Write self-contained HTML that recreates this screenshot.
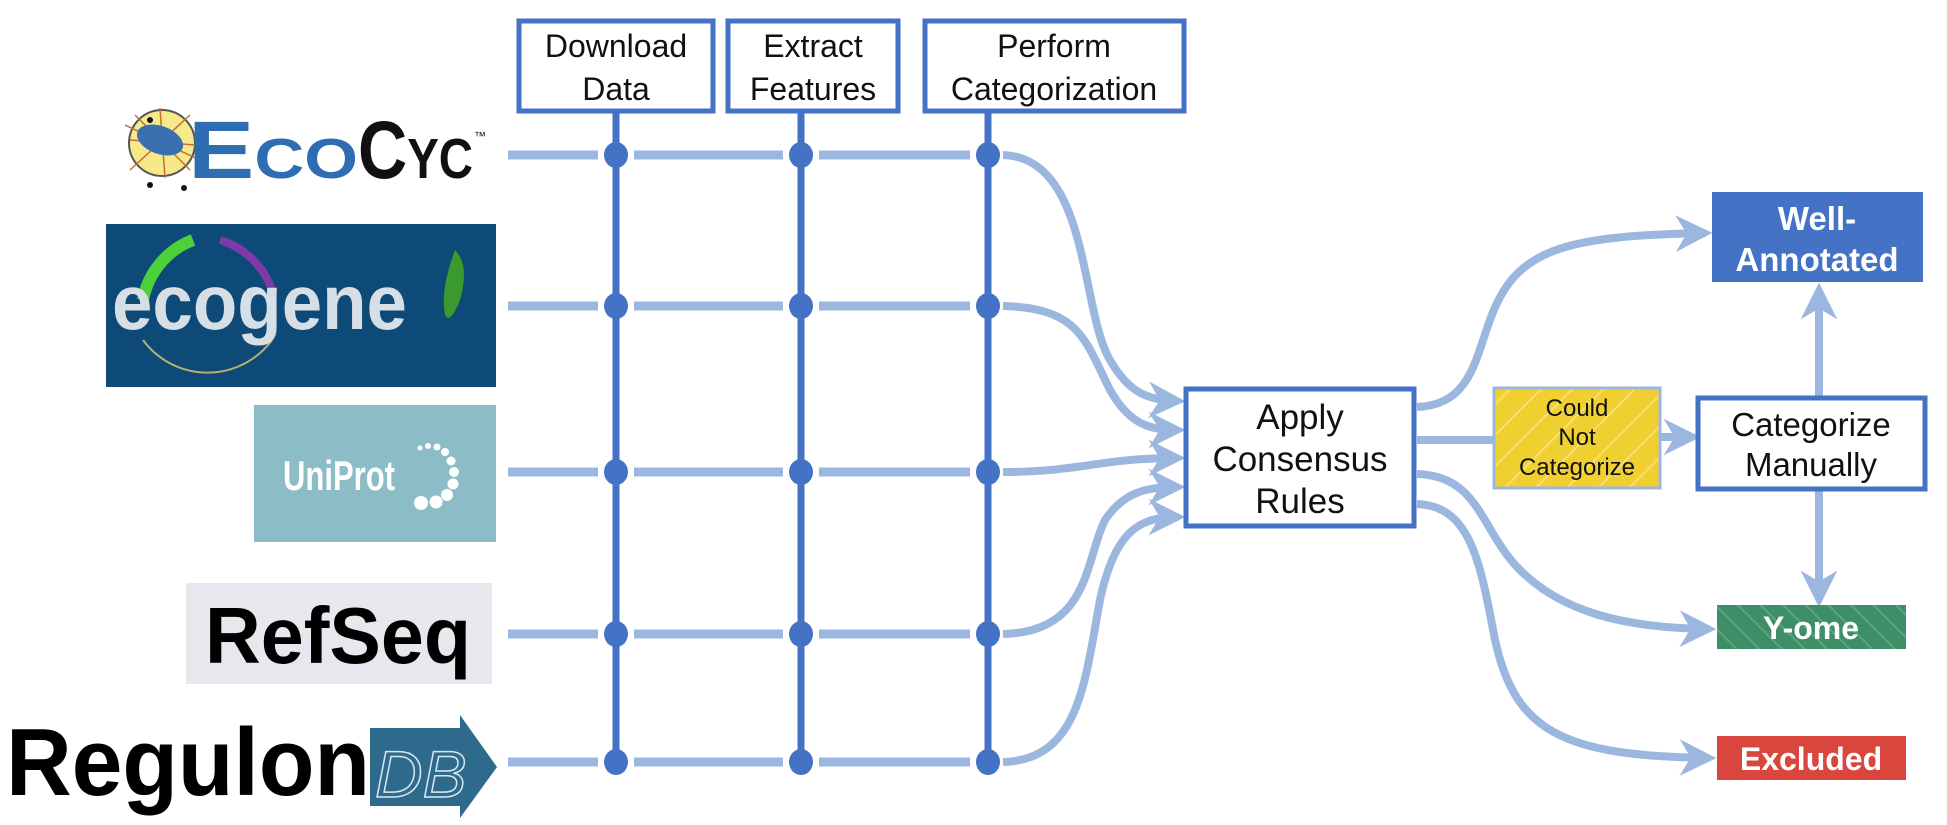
<!DOCTYPE html>
<html><head><meta charset="utf-8"><style>
html,body{margin:0;padding:0;background:#fff;}
svg{display:block;}
text{font-family:"Liberation Sans",sans-serif;}
</style></head><body>
<svg width="1947" height="825" viewBox="0 0 1947 825" xmlns="http://www.w3.org/2000/svg">
<defs>
<marker id="ah" viewBox="0 0 10 10" refX="8" refY="5" markerWidth="4.6" markerHeight="4.6" orient="auto" markerUnits="strokeWidth">
<path d="M0,0 L10,5 L0,10 L3,5 Z" fill="#9BB7E0"/>
</marker>
<pattern id="stripeY" width="22" height="22" patternUnits="userSpaceOnUse" patternTransform="rotate(45)">
<rect width="22" height="22" fill="#F0D030"/><rect width="2" height="22" fill="#F6E070"/>
</pattern>
<pattern id="stripeG" width="16" height="16" patternUnits="userSpaceOnUse" patternTransform="rotate(-45)">
<rect width="16" height="16" fill="#3E8E68"/><rect width="2" height="16" fill="#5AA480"/>
</pattern>
</defs>

<g stroke="#9BB7E0" stroke-width="9" fill="none">
<line x1="508" y1="155" x2="1000" y2="155"/>
<line x1="508" y1="306" x2="1000" y2="306"/>
<line x1="508" y1="472" x2="1000" y2="472"/>
<line x1="508" y1="634" x2="1000" y2="634"/>
<line x1="508" y1="762" x2="1000" y2="762"/>
</g>
<g fill="#fff">
<rect x="598" y="145" width="36" height="20"/><rect x="783" y="145" width="36" height="20"/><rect x="970" y="145" width="36" height="20"/>
<rect x="598" y="296" width="36" height="20"/><rect x="783" y="296" width="36" height="20"/><rect x="970" y="296" width="36" height="20"/>
<rect x="598" y="462" width="36" height="20"/><rect x="783" y="462" width="36" height="20"/><rect x="970" y="462" width="36" height="20"/>
<rect x="598" y="624" width="36" height="20"/><rect x="783" y="624" width="36" height="20"/><rect x="970" y="624" width="36" height="20"/>
<rect x="598" y="752" width="36" height="20"/><rect x="783" y="752" width="36" height="20"/><rect x="970" y="752" width="36" height="20"/>
</g>
<g stroke="#4472C4" stroke-width="7">
<line x1="616" y1="110" x2="616" y2="770"/>
<line x1="801" y1="110" x2="801" y2="770"/>
<line x1="988" y1="110" x2="988" y2="770"/>
</g>
<g fill="#4472C4">
<ellipse cx="616" cy="155" rx="12" ry="13"/><ellipse cx="801" cy="155" rx="12" ry="13"/><ellipse cx="988" cy="155" rx="12" ry="13"/>
<ellipse cx="616" cy="306" rx="12" ry="13"/><ellipse cx="801" cy="306" rx="12" ry="13"/><ellipse cx="988" cy="306" rx="12" ry="13"/>
<ellipse cx="616" cy="472" rx="12" ry="13"/><ellipse cx="801" cy="472" rx="12" ry="13"/><ellipse cx="988" cy="472" rx="12" ry="13"/>
<ellipse cx="616" cy="634" rx="12" ry="13"/><ellipse cx="801" cy="634" rx="12" ry="13"/><ellipse cx="988" cy="634" rx="12" ry="13"/>
<ellipse cx="616" cy="762" rx="12" ry="13"/><ellipse cx="801" cy="762" rx="12" ry="13"/><ellipse cx="988" cy="762" rx="12" ry="13"/>
</g>

<g fill="#fff" stroke="#4472C4" stroke-width="5">
<rect x="519" y="21" width="194" height="90"/>
<rect x="728" y="21" width="170" height="90"/>
<rect x="925" y="21" width="259" height="90"/>
</g>
<g font-size="32" fill="#111" text-anchor="middle">
<text x="616" y="57">Download</text><text x="616" y="100">Data</text>
<text x="813" y="57">Extract</text><text x="813" y="100">Features</text>
<text x="1054" y="57">Perform</text><text x="1054" y="100">Categorization</text>
</g>

<g stroke="#9BB7E0" stroke-width="8" fill="none" marker-end="url(#ah)">
<path d="M1003 155 C1090 158 1080 310 1110 360 C1130 395 1150 400 1178 401"/>
<path d="M1003 306 C1080 308 1085 340 1110 390 C1130 425 1150 430 1178 430"/>
<path d="M1003 472 C1080 472 1100 458 1178 458"/>
<path d="M1003 634 C1090 632 1085 560 1105 520 C1125 490 1150 487 1178 487"/>
<path d="M1003 762 C1080 760 1085 680 1100 600 C1115 530 1140 517 1178 517"/>
</g>

<rect x="1186" y="389" width="228" height="137" fill="#fff" stroke="#4472C4" stroke-width="5"/>
<g font-size="35" fill="#111" text-anchor="middle">
<text x="1300" y="429">Apply</text>
<text x="1300" y="471">Consensus</text>
<text x="1300" y="513">Rules</text>
</g>

<g stroke="#9BB7E0" stroke-width="8" fill="none">
<path d="M1417 407 C1470 405 1475 360 1490 320 C1515 250 1560 236 1705 233" marker-end="url(#ah)"/>
<line x1="1417" y1="440" x2="1494" y2="440"/>
<path d="M1417 474 C1480 476 1480 530 1520 570 C1560 610 1620 628 1709 629" marker-end="url(#ah)"/>
<path d="M1417 504 C1470 506 1480 560 1495 640 C1515 730 1560 756 1709 758" marker-end="url(#ah)"/>
<line x1="1660" y1="437" x2="1693" y2="437" marker-end="url(#ah)"/>
<line x1="1819" y1="396" x2="1819" y2="290" marker-end="url(#ah)"/>
<line x1="1819" y1="491" x2="1819" y2="600" marker-end="url(#ah)"/>
</g>

<rect x="1494" y="388" width="166" height="100" fill="url(#stripeY)" stroke="#9BB7E0" stroke-width="3"/>
<g font-size="24" fill="#111" text-anchor="middle">
<text x="1577" y="416">Could</text>
<text x="1577" y="445">Not</text>
<text x="1577" y="475">Categorize</text>
</g>

<rect x="1698" y="398" width="227" height="91" fill="#fff" stroke="#4472C4" stroke-width="5"/>
<g font-size="33" fill="#111" text-anchor="middle">
<text x="1811" y="436">Categorize</text>
<text x="1811" y="476">Manually</text>
</g>

<rect x="1712" y="192" width="211" height="90" fill="#4472C4"/>
<g font-size="33" font-weight="bold" fill="#fff" text-anchor="middle">
<text x="1817" y="230">Well-</text>
<text x="1817" y="271">Annotated</text>
</g>
<rect x="1717" y="605" width="189" height="44" fill="url(#stripeG)"/>
<text x="1811" y="639" font-size="32" font-weight="bold" fill="#fff" text-anchor="middle">Y-ome</text>
<rect x="1717" y="736" width="189" height="44" fill="#D9463E"/>
<text x="1811" y="770" font-size="32" font-weight="bold" fill="#fff" text-anchor="middle">Excluded</text>

<circle cx="162" cy="143" r="33" fill="#F7E88A" stroke="#555" stroke-width="2"/>
<g stroke="#C0703A" stroke-width="1.5">
<line x1="135" y1="115" x2="190" y2="170"/><line x1="130" y1="140" x2="195" y2="145"/><line x1="160" y1="108" x2="165" y2="178"/><line x1="190" y1="115" x2="130" y2="170"/><line x1="125" y1="125" x2="200" y2="160"/>
</g>
<ellipse cx="160" cy="140" rx="24" ry="14" transform="rotate(20 160 140)" fill="#3A6FB0"/>
<circle cx="150" cy="120" r="3" fill="#111"/><circle cx="150" cy="185" r="3" fill="#111"/><circle cx="184" cy="188" r="3" fill="#111"/><circle cx="211" cy="149" r="3" fill="#111"/>
<text x="188" y="178" font-size="82" font-weight="bold" style="font-variant:small-caps" fill="#2F6DB3" textLength="170" lengthAdjust="spacingAndGlyphs">Eco</text>
<text x="358" y="178" font-size="82" font-weight="bold" style="font-variant:small-caps" fill="#111" textLength="115" lengthAdjust="spacingAndGlyphs">Cyc</text>
<text x="474" y="140" font-size="12" fill="#111">™</text>

<rect x="106" y="224" width="390" height="163" fill="#0D4A78"/>
<path d="M193 240 A80 80 0 0 0 143 300" stroke="#4CD13A" stroke-width="12" fill="none"/>
<path d="M220 240 A80 80 0 0 1 272 290" stroke="#7D3AA8" stroke-width="8" fill="none"/>
<path d="M143 340 A80 80 0 0 0 272 340" stroke="#B8B070" stroke-width="2" fill="none"/>
<text x="112" y="329" font-size="78" font-weight="bold" fill="#D6DEE6" textLength="295" lengthAdjust="spacingAndGlyphs">ecogene</text>
<path d="M455 250 Q470 265 460 300 Q450 325 445 315 Q440 290 455 250Z" fill="#3A9A2E"/>

<rect x="254" y="405" width="242" height="137" fill="#8CBDC7"/>
<text x="283" y="490" font-size="42" font-weight="bold" fill="#fff" textLength="112" lengthAdjust="spacingAndGlyphs">UniProt</text>
<g fill="#fff">
<circle cx="420" cy="448" r="2.5"/><circle cx="428" cy="446" r="3"/><circle cx="437" cy="447" r="3.5"/><circle cx="445" cy="452" r="4"/><circle cx="451" cy="461" r="4.5"/><circle cx="454" cy="472" r="5"/><circle cx="453" cy="484" r="5.5"/><circle cx="447" cy="495" r="6"/><circle cx="436" cy="502" r="6.5"/><circle cx="421" cy="503" r="7"/>
</g>

<rect x="186" y="583" width="306" height="101" fill="#E6E8EE"/>
<text x="205" y="663" font-size="80" font-weight="bold" fill="#000" textLength="266" lengthAdjust="spacingAndGlyphs">RefSeq</text>

<path d="M370 728 L460 728 L460 715 L497 767 L460 818 L460 806 L370 806 Z" fill="#2E6A8C"/>
<text x="6" y="795" font-size="96" font-weight="bold" fill="#000" textLength="364" lengthAdjust="spacingAndGlyphs">Regulon</text>
<text x="375" y="797" font-size="66" font-style="italic" fill="none" stroke="#D8E8F0" stroke-width="1.5">DB</text>
</svg>
</body></html>
